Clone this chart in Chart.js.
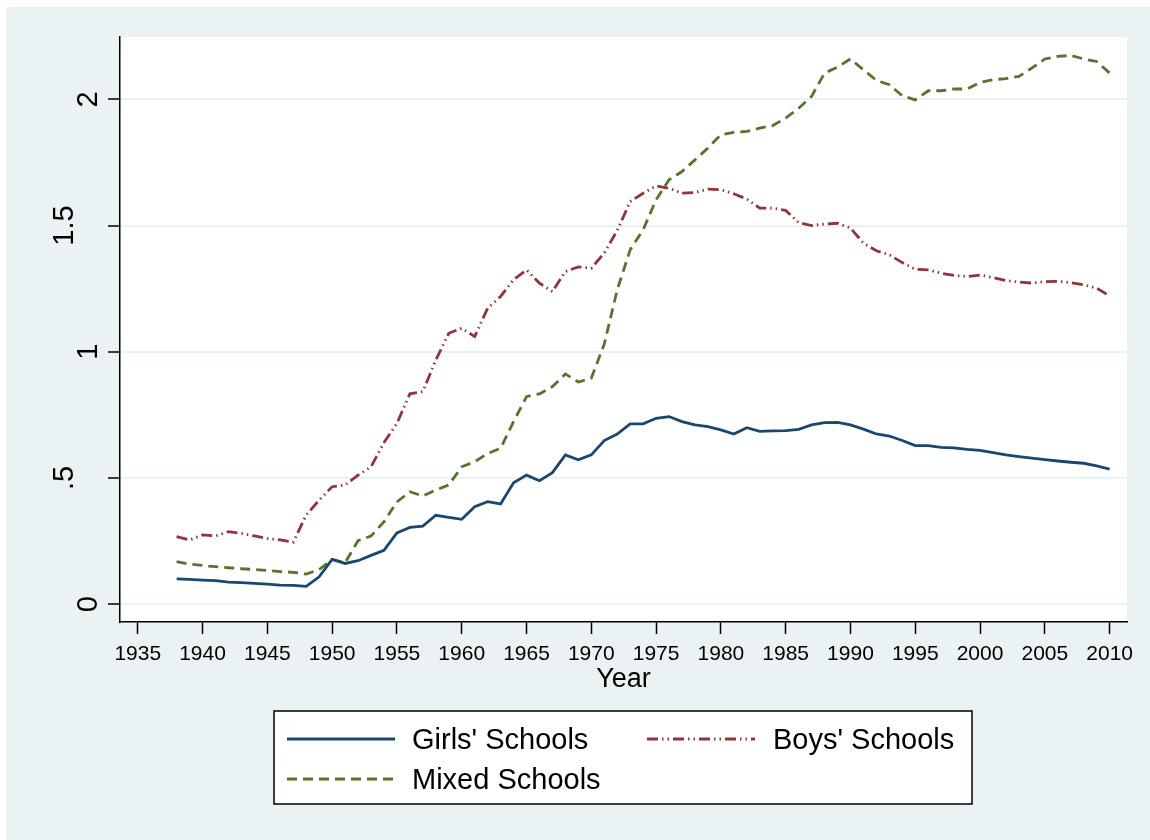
<!DOCTYPE html>
<html>
<head>
<meta charset="utf-8">
<script src="https://cdn.jsdelivr.net/npm/chart.js@4.4.1/dist/chart.umd.min.js"></script>
<style>
  html, body { margin: 0; padding: 0; background: #ffffff; }
  #wrap { width: 1150px; height: 840px; }
</style>
</head>
<body>
<div id="wrap"><canvas id="chart" width="1150" height="840"></canvas></div>
<script>
// years and series values
var years = [];
for (var yr = 1938; yr <= 2010; yr++) years.push(yr);

var girls = [0.100, 0.098, 0.095, 0.093, 0.087, 0.085, 0.082, 0.079, 0.075, 0.074,
  0.070, 0.108, 0.177, 0.161, 0.172, 0.193, 0.213, 0.282, 0.304, 0.309,
  0.352, 0.344, 0.336, 0.386, 0.406, 0.397, 0.481, 0.511, 0.489, 0.521,
  0.591, 0.572, 0.591, 0.648, 0.674, 0.714, 0.714, 0.736, 0.743, 0.723,
  0.710, 0.703, 0.690, 0.674, 0.699, 0.684, 0.686, 0.687, 0.692, 0.710,
  0.719, 0.720, 0.710, 0.693, 0.674, 0.666, 0.648, 0.628, 0.628, 0.621,
  0.619, 0.613, 0.609, 0.600, 0.591, 0.584, 0.578, 0.572, 0.567, 0.562,
  0.558, 0.548, 0.535];

var boys = [0.267, 0.254, 0.274, 0.270, 0.287, 0.280, 0.270, 0.260, 0.254, 0.245,
  0.353, 0.412, 0.465, 0.472, 0.511, 0.544, 0.640, 0.716, 0.833, 0.842,
  0.967, 1.073, 1.093, 1.060, 1.172, 1.219, 1.285, 1.324, 1.272, 1.238,
  1.318, 1.336, 1.331, 1.391, 1.480, 1.595, 1.628, 1.657, 1.648, 1.628,
  1.631, 1.644, 1.642, 1.626, 1.605, 1.569, 1.569, 1.560, 1.512, 1.500,
  1.506, 1.509, 1.490, 1.430, 1.400, 1.384, 1.353, 1.327, 1.324, 1.311,
  1.302, 1.298, 1.304, 1.294, 1.282, 1.276, 1.272, 1.278, 1.279, 1.274,
  1.265, 1.252, 1.221];

var mixed = [0.168, 0.158, 0.153, 0.148, 0.144, 0.140, 0.137, 0.133, 0.129, 0.126,
  0.119, 0.137, 0.177, 0.164, 0.251, 0.270, 0.326, 0.405, 0.445, 0.428,
  0.452, 0.472, 0.544, 0.564, 0.597, 0.617, 0.723, 0.822, 0.833, 0.862,
  0.912, 0.880, 0.895, 1.030, 1.245, 1.404, 1.483, 1.602, 1.681, 1.714,
  1.760, 1.807, 1.860, 1.869, 1.873, 1.886, 1.896, 1.926, 1.965, 2.012,
  2.104, 2.128, 2.160, 2.117, 2.075, 2.058, 2.014, 1.998, 2.034, 2.034,
  2.041, 2.041, 2.067, 2.078, 2.082, 2.091, 2.124, 2.160, 2.170, 2.174,
  2.160, 2.150, 2.104];

var xTicks = [1935, 1940, 1945, 1950, 1955, 1960, 1965, 1970, 1975, 1980, 1985, 1990, 1995, 2000, 2005, 2010];
var yTicks = [0, 0.5, 1, 1.5, 2];
var yTickLabels = ['0', '.5', '1', '1.5', '2'];
var seriesNames = ["Girls' Schools", "Boys' Schools", "Mixed Schools"];

var BG = '#eaf2f3';
var FONT = "'Liberation Sans', Arial, sans-serif";

function pts(vals) {
  return years.map(function (y, i) { return { x: y, y: vals[i] }; });
}

var stataFrame = {
  id: 'stataFrame',
  beforeDraw: function (chart) {
    var ctx = chart.ctx, a = chart.chartArea;
    ctx.save();
    ctx.fillStyle = '#ffffff';
    ctx.fillRect(0, 0, chart.width, chart.height);
    ctx.fillStyle = BG;
    ctx.fillRect(6, 7, chart.width - 6, chart.height - 7);
    ctx.fillStyle = '#ffffff';
    ctx.fillRect(a.left, a.top, a.right - a.left, a.bottom - a.top);
    ctx.restore();
  },
  afterDraw: function (chart) {
    var ctx = chart.ctx;
    var ys = chart.scales.y;
    ctx.save();
    // rotated y tick labels
    ctx.fillStyle = '#000';
    ctx.font = '29px ' + FONT;
    ctx.textAlign = 'center';
    ctx.textBaseline = 'alphabetic';
    yTicks.forEach(function (v, i) {
      var py = ys.getPixelForValue(v);
      var bx = Number.isInteger(v) ? 97 : 73;
      ctx.save();
      ctx.translate(bx, py);
      ctx.rotate(-Math.PI / 2);
      ctx.fillText(yTickLabels[i], 0, 0);
      ctx.restore();
    });

    // legend box
    ctx.fillStyle = '#ffffff';
    ctx.fillRect(274, 711, 698, 93);
    ctx.strokeStyle = '#000';
    ctx.lineWidth = 1.5;
    ctx.strokeRect(274, 711, 698, 93);

    var items = [
      { ds: 0, lx: 287, tx: 412, y: 739 },
      { ds: 1, lx: 647, tx: 773, y: 739 },
      { ds: 2, lx: 287, tx: 412, y: 779 }
    ];
    ctx.font = '29px ' + FONT;
    ctx.textAlign = 'left';
    ctx.textBaseline = 'middle';
    items.forEach(function (it) {
      var d = chart.data.datasets[it.ds];
      ctx.save();
      ctx.strokeStyle = d.borderColor;
      ctx.lineWidth = d.borderWidth;
      ctx.setLineDash(d.borderDash || []);
      ctx.beginPath();
      ctx.moveTo(it.lx, it.y);
      ctx.lineTo(it.lx + 108, it.y);
      ctx.stroke();
      ctx.restore();
      ctx.fillStyle = '#000';
      ctx.fillText(d.label, it.tx, it.y + 2);
    });
    ctx.restore();
  }
};

var chart = new Chart(document.getElementById('chart'), {
  type: 'line',
  data: {
    datasets: [
      {
        label: seriesNames[0],
        data: pts(girls),
        borderColor: '#1a476f',
        borderWidth: 2.8,
        pointRadius: 0,
        tension: 0
      },
      {
        label: seriesNames[1],
        data: pts(boys),
        borderColor: '#90353b',
        borderWidth: 2.8,
        borderDash: [11, 4, 1.5, 4, 1.5, 4],
        pointRadius: 0,
        tension: 0
      },
      {
        label: seriesNames[2],
        data: pts(mixed),
        borderColor: '#55752f',
        borderWidth: 2.8,
        borderDash: [10, 6],
        pointRadius: 0,
        tension: 0
      }
    ]
  },
  options: {
    responsive: false,
    animation: false,
    events: [],
    layout: { padding: { left: 0, top: 37, right: 23, bottom: 128 } },
    plugins: {
      legend: { display: false },
      tooltip: { enabled: false },
      title: { display: false }
    },
    scales: {
      x: {
        type: 'linear',
        min: 1933.63,
        max: 2011.34,
        afterBuildTicks: function (s) { s.ticks = xTicks.map(function (v) { return { value: v }; }); },
        afterFit: function (s) { s.height = 90; },
        ticks: {
          color: '#000',
          font: { family: FONT, size: 21 },
          padding: 8,
          maxRotation: 0,
          autoSkip: false,
          callback: function (v) { return String(v); }
        },
        grid: {
          drawOnChartArea: false,
          drawTicks: true,
          tickLength: 12,
          tickColor: '#000',
          tickWidth: 1.5
        },
        border: { display: true, color: '#000', width: 1.5 },
        title: {
          display: true,
          text: 'Year',
          color: '#000',
          font: { family: FONT, size: 27 },
          padding: { top: 0, bottom: 16 }
        }
      },
      y: {
        type: 'linear',
        min: -0.071,
        max: 2.247,
        afterBuildTicks: function (s) { s.ticks = yTicks.map(function (v) { return { value: v }; }); },
        afterFit: function (s) { s.width = 120; },
        ticks: { display: false },
        grid: {
          color: BG,
          lineWidth: 2,
          drawTicks: true,
          tickLength: 12,
          tickColor: '#000',
          tickWidth: 1.5
        },
        border: { display: true, color: '#000', width: 1.5 }
      }
    }
  },
  plugins: [stataFrame]
});
</script>
</body>
</html>
